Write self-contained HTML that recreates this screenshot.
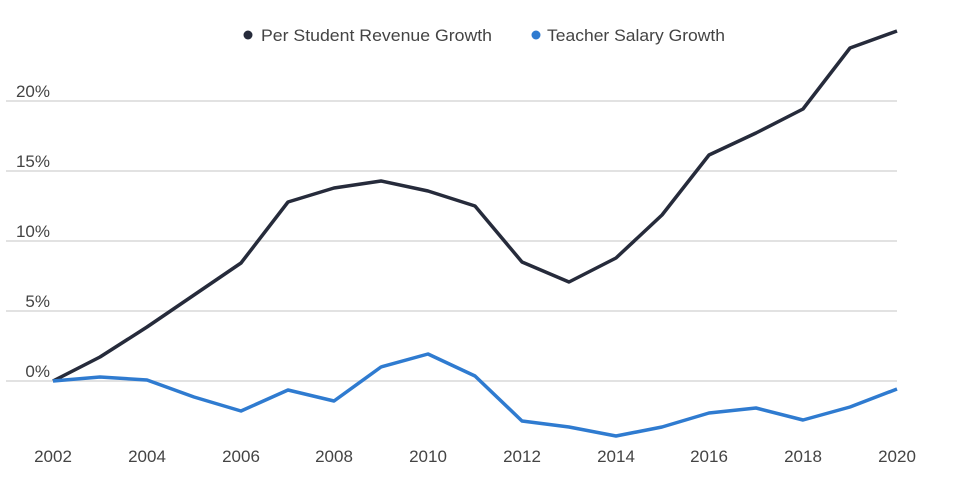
<!DOCTYPE html>
<html><head><style>body{margin:0;background:#fff}svg{display:block}text{font-family:"Liberation Sans",sans-serif;fill:#444}</style></head>
<body>
<svg width="975" height="496" viewBox="0 0 975 496">
<g stroke="#d9d9d9" stroke-width="1.5">
<line x1="6" x2="897" y1="101" y2="101"/><line x1="6" x2="897" y1="171" y2="171"/><line x1="6" x2="897" y1="241" y2="241"/><line x1="6" x2="897" y1="311" y2="311"/><line x1="6" x2="897" y1="381" y2="381"/>
</g>
<g font-size="17" text-anchor="end">
<text x="50" y="97">20%</text><text x="50" y="167">15%</text><text x="50" y="237">10%</text><text x="50" y="307">5%</text><text x="50" y="377">0%</text>
</g>
<g font-size="17" text-anchor="middle">
<text x="53" y="462">2002</text><text x="147" y="462">2004</text><text x="241" y="462">2006</text><text x="334" y="462">2008</text><text x="428" y="462">2010</text><text x="522" y="462">2012</text><text x="616" y="462">2014</text><text x="709" y="462">2016</text><text x="803" y="462">2018</text><text x="897" y="462">2020</text>
</g>
<polyline fill="none" stroke="#262b3b" stroke-width="3.5" stroke-linejoin="round" points="53,381 100,357 147,327 194,295 241,263 288,202 334,188 381,181 428,191 475,206 522,262 569,282 616,258 662,215 709,155 756,133 803,109 850,48 897,31"/>
<polyline fill="none" stroke="#2f7bd0" stroke-width="3.5" stroke-linejoin="round" points="53,381 100,377 147,380 194,397 241,411 288,390 334,401 381,367 428,354 475,376 522,421 569,427 616,436 662,427 709,413 756,408 803,420 850,407 897,389"/>
<circle cx="248" cy="35" r="4.5" fill="#262b3b"/>
<text x="261" y="41" font-size="17" fill="#333" textLength="231" lengthAdjust="spacingAndGlyphs">Per Student Revenue Growth</text>
<circle cx="536" cy="35" r="4.5" fill="#2f7bd0"/>
<text x="547" y="41" font-size="17" fill="#333" textLength="178" lengthAdjust="spacingAndGlyphs">Teacher Salary Growth</text>
</svg>
</body></html>
